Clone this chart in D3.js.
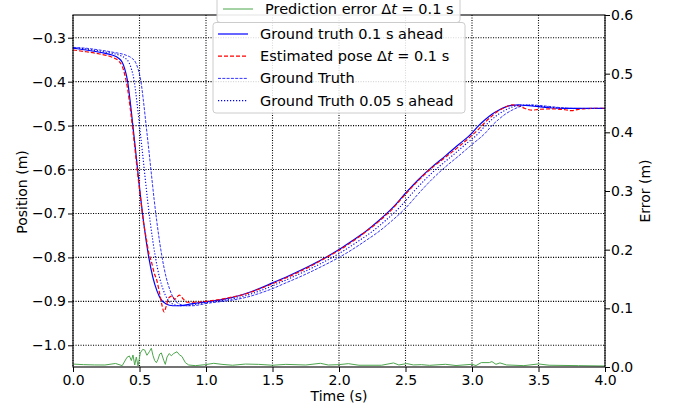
<!DOCTYPE html>
<html>
<head>
<meta charset="UTF-8">
<script src="https://d3js.org/d3.v7.min.js"></script>
<style>
    body { margin: 0; background: #fff; }
    svg { display: block; font-family: "DejaVu Sans", sans-serif; }
</style>
</head>
<body>
<div id="chart"></div>
<script>
    const width = 674, height = 411;
    const plotLeft = 73, plotRight = 605, plotTop = 15, plotBottom = 367;

    // tick values
    const timeTicks = [0, 0.5, 1.0, 1.5, 2.0, 2.5, 3.0, 3.5, 4.0];
    const posTicks = [-1.0, -0.9, -0.8, -0.7, -0.6, -0.5, -0.4, -0.3];
    const errTicks = [0, 0.1, 0.2, 0.3, 0.4, 0.5, 0.6];

    // [time (s), position (m)]
    const gtAhead = [
        [0, -0.324], [0.1, -0.328], [0.2, -0.333], [0.3, -0.340], [0.34, -0.346], [0.37, -0.356],
        [0.39, -0.372], [0.41, -0.398], [0.43, -0.445], [0.45, -0.500], [0.47, -0.555], [0.49, -0.612],
        [0.51, -0.668], [0.53, -0.718], [0.55, -0.762], [0.57, -0.800], [0.6, -0.845], [0.63, -0.875],
        [0.66, -0.895], [0.7, -0.906], [0.75, -0.910], [0.8, -0.910], [0.85, -0.908], [0.9, -0.905],
        [1.0, -0.901], [1.1, -0.897], [1.2, -0.891], [1.3, -0.882], [1.4, -0.871], [1.5, -0.858],
        [1.6, -0.845], [1.7, -0.831], [1.8, -0.816], [1.9, -0.800], [2.0, -0.782], [2.1, -0.762],
        [2.2, -0.741], [2.3, -0.716], [2.4, -0.688], [2.5, -0.654], [2.6, -0.622], [2.7, -0.594],
        [2.8, -0.569], [2.9, -0.543], [3.0, -0.517], [3.05, -0.500], [3.1, -0.486], [3.15, -0.474],
        [3.2, -0.465], [3.25, -0.458], [3.3, -0.454], [3.35, -0.453], [3.4, -0.454], [3.5, -0.457],
        [3.6, -0.460], [3.7, -0.461], [3.8, -0.461], [3.9, -0.461], [4.0, -0.461]
    ];
    const estimated = [
        [0, -0.328], [0.1, -0.332], [0.2, -0.337], [0.3, -0.345], [0.34, -0.352], [0.37, -0.365],
        [0.39, -0.385], [0.41, -0.415], [0.43, -0.460], [0.45, -0.510], [0.47, -0.565], [0.49, -0.620],
        [0.51, -0.670], [0.53, -0.720], [0.55, -0.755], [0.57, -0.790], [0.59, -0.810], [0.61, -0.835],
        [0.63, -0.852], [0.65, -0.880], [0.67, -0.910], [0.685, -0.924], [0.70, -0.912], [0.72, -0.892],
        [0.745, -0.888], [0.765, -0.895], [0.80, -0.886], [0.83, -0.895], [0.86, -0.902], [0.9, -0.902],
        [1.0, -0.900], [1.1, -0.896], [1.2, -0.890], [1.3, -0.883], [1.4, -0.872], [1.5, -0.860],
        [1.6, -0.847], [1.7, -0.833], [1.8, -0.818], [1.9, -0.801], [2.0, -0.784], [2.1, -0.764],
        [2.2, -0.742], [2.3, -0.718], [2.4, -0.690], [2.5, -0.656], [2.6, -0.624], [2.7, -0.596],
        [2.8, -0.572], [2.9, -0.548], [3.0, -0.522], [3.05, -0.508], [3.1, -0.492], [3.15, -0.478],
        [3.2, -0.466], [3.25, -0.458], [3.3, -0.453], [3.35, -0.455], [3.4, -0.461], [3.45, -0.465],
        [3.5, -0.463], [3.6, -0.462], [3.7, -0.464], [3.75, -0.466], [3.8, -0.463], [3.9, -0.461],
        [4.0, -0.461]
    ];
    const groundTruth = [
        [0, -0.322], [0.1, -0.324], [0.2, -0.328], [0.3, -0.333], [0.4, -0.340], [0.44, -0.346],
        [0.47, -0.356], [0.49, -0.372], [0.51, -0.398], [0.53, -0.445], [0.55, -0.500], [0.57, -0.555],
        [0.59, -0.612], [0.61, -0.668], [0.63, -0.718], [0.65, -0.762], [0.67, -0.800], [0.7, -0.845],
        [0.73, -0.875], [0.76, -0.895], [0.8, -0.906], [0.85, -0.910], [0.9, -0.910], [0.95, -0.908],
        [1.0, -0.905], [1.1, -0.901], [1.2, -0.897], [1.3, -0.891], [1.4, -0.882], [1.5, -0.871],
        [1.6, -0.858], [1.7, -0.845], [1.8, -0.831], [1.9, -0.816], [2.0, -0.800], [2.1, -0.782],
        [2.2, -0.762], [2.3, -0.741], [2.4, -0.716], [2.5, -0.688], [2.6, -0.654], [2.7, -0.622],
        [2.8, -0.594], [2.9, -0.569], [3.0, -0.543], [3.1, -0.517], [3.15, -0.500], [3.2, -0.486],
        [3.25, -0.474], [3.3, -0.465], [3.35, -0.458], [3.4, -0.454], [3.45, -0.453], [3.5, -0.454],
        [3.6, -0.457], [3.7, -0.460], [3.8, -0.461], [3.9, -0.461], [4.0, -0.461]
    ];
    const gtHalfAhead = [
        [0, -0.323], [0.05, -0.324], [0.15, -0.328], [0.25, -0.333], [0.35, -0.340], [0.39, -0.346],
        [0.42, -0.356], [0.44, -0.372], [0.46, -0.398], [0.48, -0.445], [0.50, -0.500], [0.52, -0.555],
        [0.54, -0.612], [0.56, -0.668], [0.58, -0.718], [0.60, -0.762], [0.62, -0.800], [0.65, -0.845],
        [0.68, -0.875], [0.71, -0.895], [0.75, -0.906], [0.80, -0.910], [0.85, -0.910], [0.90, -0.908],
        [0.95, -0.905], [1.05, -0.901], [1.15, -0.897], [1.25, -0.891], [1.35, -0.882], [1.45, -0.871],
        [1.55, -0.858], [1.65, -0.845], [1.75, -0.831], [1.85, -0.816], [1.95, -0.800], [2.05, -0.782],
        [2.15, -0.762], [2.25, -0.741], [2.35, -0.716], [2.45, -0.688], [2.55, -0.654], [2.65, -0.622],
        [2.75, -0.594], [2.85, -0.569], [2.95, -0.543], [3.05, -0.517], [3.10, -0.500], [3.15, -0.486],
        [3.20, -0.474], [3.25, -0.465], [3.30, -0.458], [3.35, -0.454], [3.40, -0.453], [3.45, -0.454],
        [3.55, -0.457], [3.65, -0.460], [3.75, -0.461], [3.85, -0.461], [4.0, -0.461]
    ];
    // [time (s), error (m)] on the right axis
    const predError = [
        [0, 0.005], [0.08, 0.004], [0.16, 0.0035], [0.24, 0.0034], [0.32, 0.006], [0.37, 0.0023],
        [0.406, 0.0165], [0.424, 0.0188], [0.439, 0.011], [0.451, 0.0205], [0.464, 0.0034], [0.476, 0.017],
        [0.489, 0.0017], [0.506, 0.024], [0.524, 0.030], [0.539, 0.029], [0.556, 0.020], [0.574, 0.026],
        [0.589, 0.032], [0.601, 0.020], [0.614, 0.011], [0.627, 0.0074], [0.639, 0.013], [0.652, 0.022],
        [0.664, 0.024], [0.682, 0.0114], [0.694, 0.0045], [0.707, 0.017], [0.724, 0.023], [0.739, 0.019],
        [0.757, 0.023], [0.782, 0.026], [0.799, 0.021], [0.819, 0.018], [0.845, 0.0074], [0.87, 0.0034],
        [0.92, 0.0023], [0.995, 0.004], [1.058, 0.0063], [1.12, 0.0045], [1.2, 0.003], [1.296, 0.005],
        [1.396, 0.0045], [1.5, 0.003], [1.6, 0.0045], [1.75, 0.0034], [1.86, 0.0063], [1.92, 0.0034],
        [2.0, 0.004], [2.07, 0.0057], [2.15, 0.003], [2.32, 0.003], [2.41, 0.0069], [2.45, 0.0035],
        [2.51, 0.0058], [2.56, 0.0035], [2.62, 0.004], [2.68, 0.0028], [2.8, 0.0046], [2.88, 0.0025],
        [3.0, 0.0046], [3.03, 0.0025], [3.07, 0.0075], [3.13, 0.0075], [3.15, 0.0092], [3.18, 0.0046],
        [3.21, 0.007], [3.26, 0.0035], [3.39, 0.0023], [3.5, 0.0052], [3.58, 0.003], [3.8, 0.0023],
        [4.0, 0.0017]
    ];

    const x = d3.scaleLinear().domain([0, 4]).range([plotLeft, plotRight]);
    const y = d3.scaleLinear().domain([-1.0494, -0.2483]).range([plotBottom, plotTop]);
    const yErr = d3.scaleLinear().domain([0, 0.6]).range([plotBottom, plotTop]);

    const svg = d3.select("#chart").append("svg")
        .attr("width", width)
        .attr("height", height);

    svg.append("defs").append("clipPath").attr("id", "clip")
        .append("rect")
        .attr("x", plotLeft).attr("y", plotTop)
        .attr("width", plotRight - plotLeft).attr("height", plotBottom - plotTop);

    // grid
    const grid = svg.append("g")
        .attr("stroke", "#000")
        .attr("stroke-width", 1.1)
        .attr("stroke-dasharray", "1.1,1.4");
    grid.selectAll(".vg").data(timeTicks).join("line")
        .attr("x1", d => x(d)).attr("x2", d => x(d))
        .attr("y1", plotTop).attr("y2", plotBottom);
    grid.selectAll(".hg").data(posTicks).join("line")
        .attr("x1", plotLeft).attr("x2", plotRight)
        .attr("y1", d => y(d)).attr("y2", d => y(d));

    const posLine = d3.line()
        .x(d => x(d[0]))
        .y(d => y(d[1]))
        .curve(d3.curveMonotoneX);

    const series = [
        { data: gtAhead, stroke: "blue", dash: null, w: 1.2, op: 1 },
        { data: estimated, stroke: "red", dash: "4,2", w: 1.2, op: 1 },
        { data: groundTruth, stroke: "blue", dash: "3,1.3", w: 1, op: 0.8 },
        { data: gtHalfAhead, stroke: "blue", dash: "1.2,1.8", w: 1.1, op: 1 }
    ];

    const lines = svg.append("g").attr("clip-path", "url(#clip)");
    series.forEach(s => {
        lines.append("path")
            .attr("d", posLine(s.data))
            .attr("fill", "none")
            .attr("stroke", s.stroke)
            .attr("stroke-width", s.w)
            .attr("stroke-opacity", s.op)
            .attr("stroke-dasharray", s.dash);
    });

    const errLine = d3.line()
        .x(d => x(d[0]))
        .y(d => yErr(d[1]));
    lines.append("path")
        .attr("d", errLine(predError))
        .attr("fill", "none")
        .attr("stroke", "#4da64d")
        .attr("stroke-width", 1);

    // axes
    const fmt = d3.format(".1f");
    const styleAxis = g => {
        g.select(".domain").remove();
        g.selectAll("text").attr("font-size", 14).attr("fill", "#000")
            .attr("font-family", "DejaVu Sans, sans-serif");
        g.selectAll("line").attr("stroke", "#000");
    };
    svg.append("g")
        .attr("transform", `translate(0,${plotBottom})`)
        .call(d3.axisBottom(x).tickValues(timeTicks).tickFormat(fmt).tickSize(5).tickPadding(3))
        .call(styleAxis);
    svg.append("g")
        .attr("transform", `translate(${plotLeft},0)`)
        .call(d3.axisLeft(y).tickValues(posTicks).tickFormat(fmt).tickSize(5).tickPadding(2))
        .call(styleAxis);
    svg.append("g")
        .attr("transform", `translate(${plotRight},0)`)
        .call(d3.axisRight(yErr).tickValues(errTicks).tickFormat(fmt).tickSize(5).tickPadding(1))
        .call(styleAxis);

    // spines
    svg.append("rect")
        .attr("x", plotLeft).attr("y", plotTop)
        .attr("width", plotRight - plotLeft).attr("height", plotBottom - plotTop)
        .attr("fill", "none").attr("stroke", "#000").attr("stroke-width", 1.1);

    // axis labels
    svg.append("text")
        .attr("x", (plotLeft + plotRight) / 2).attr("y", 401)
        .attr("text-anchor", "middle").attr("font-size", 14)
        .text("Time (s)");
    svg.append("text")
        .attr("transform", "translate(22,192) rotate(-90)")
        .attr("dy", "0.35em")
        .attr("text-anchor", "middle").attr("font-size", 14)
        .text("Position (m)");
    svg.append("text")
        .attr("transform", "translate(645,191) rotate(-90)")
        .attr("dy", "0.35em")
        .attr("text-anchor", "middle").attr("font-size", 14)
        .text("Error (m)");

    // legends
    function addLabel(g, tx, ty, parts) {
        const t = g.append("text").attr("x", tx).attr("y", ty)
            .attr("dy", "0.35em").attr("font-size", 14.5).attr("fill", "#000");
        parts.forEach(p => {
            t.append("tspan").attr("font-style", p.it ? "italic" : null).text(p.s);
        });
    }

    const legErr = svg.append("g");
    legErr.append("rect")
        .attr("x", 217).attr("y", -6).attr("width", 243).attr("height", 28.5)
        .attr("rx", 3).attr("fill", "#fff").attr("fill-opacity", 0.9)
        .attr("stroke", "#ccc");
    legErr.append("line")
        .attr("x1", 223).attr("x2", 253).attr("y1", 9).attr("y2", 9)
        .attr("stroke", "#4da64d").attr("stroke-width", 1);
    addLabel(legErr, 265, 9, [{ s: "Prediction error Δ" }, { s: "t", it: true }, { s: " = 0.1 s" }]);

    const legendLabels = [
        [{ s: "Ground truth 0.1 s ahead" }],
        [{ s: "Estimated pose Δ" }, { s: "t", it: true }, { s: " = 0.1 s" }],
        [{ s: "Ground Truth" }],
        [{ s: "Ground Truth 0.05 s ahead" }]
    ];
    const legPos = svg.append("g");
    legPos.append("rect")
        .attr("x", 213).attr("y", 22.5).attr("width", 252).attr("height", 90.5)
        .attr("rx", 3).attr("fill", "#fff").attr("fill-opacity", 0.85)
        .attr("stroke", "#ccc");
    legendLabels.forEach((lab, i) => {
        const ly = 34 + i * 22.2;
        const s = series[i];
        legPos.append("line")
            .attr("x1", 218).attr("x2", 248).attr("y1", ly).attr("y2", ly)
            .attr("stroke", s.stroke).attr("stroke-width", s.w)
            .attr("stroke-opacity", s.op).attr("stroke-dasharray", s.dash);
        addLabel(legPos, 260, ly, lab);
    });
</script>
</body>
</html>
